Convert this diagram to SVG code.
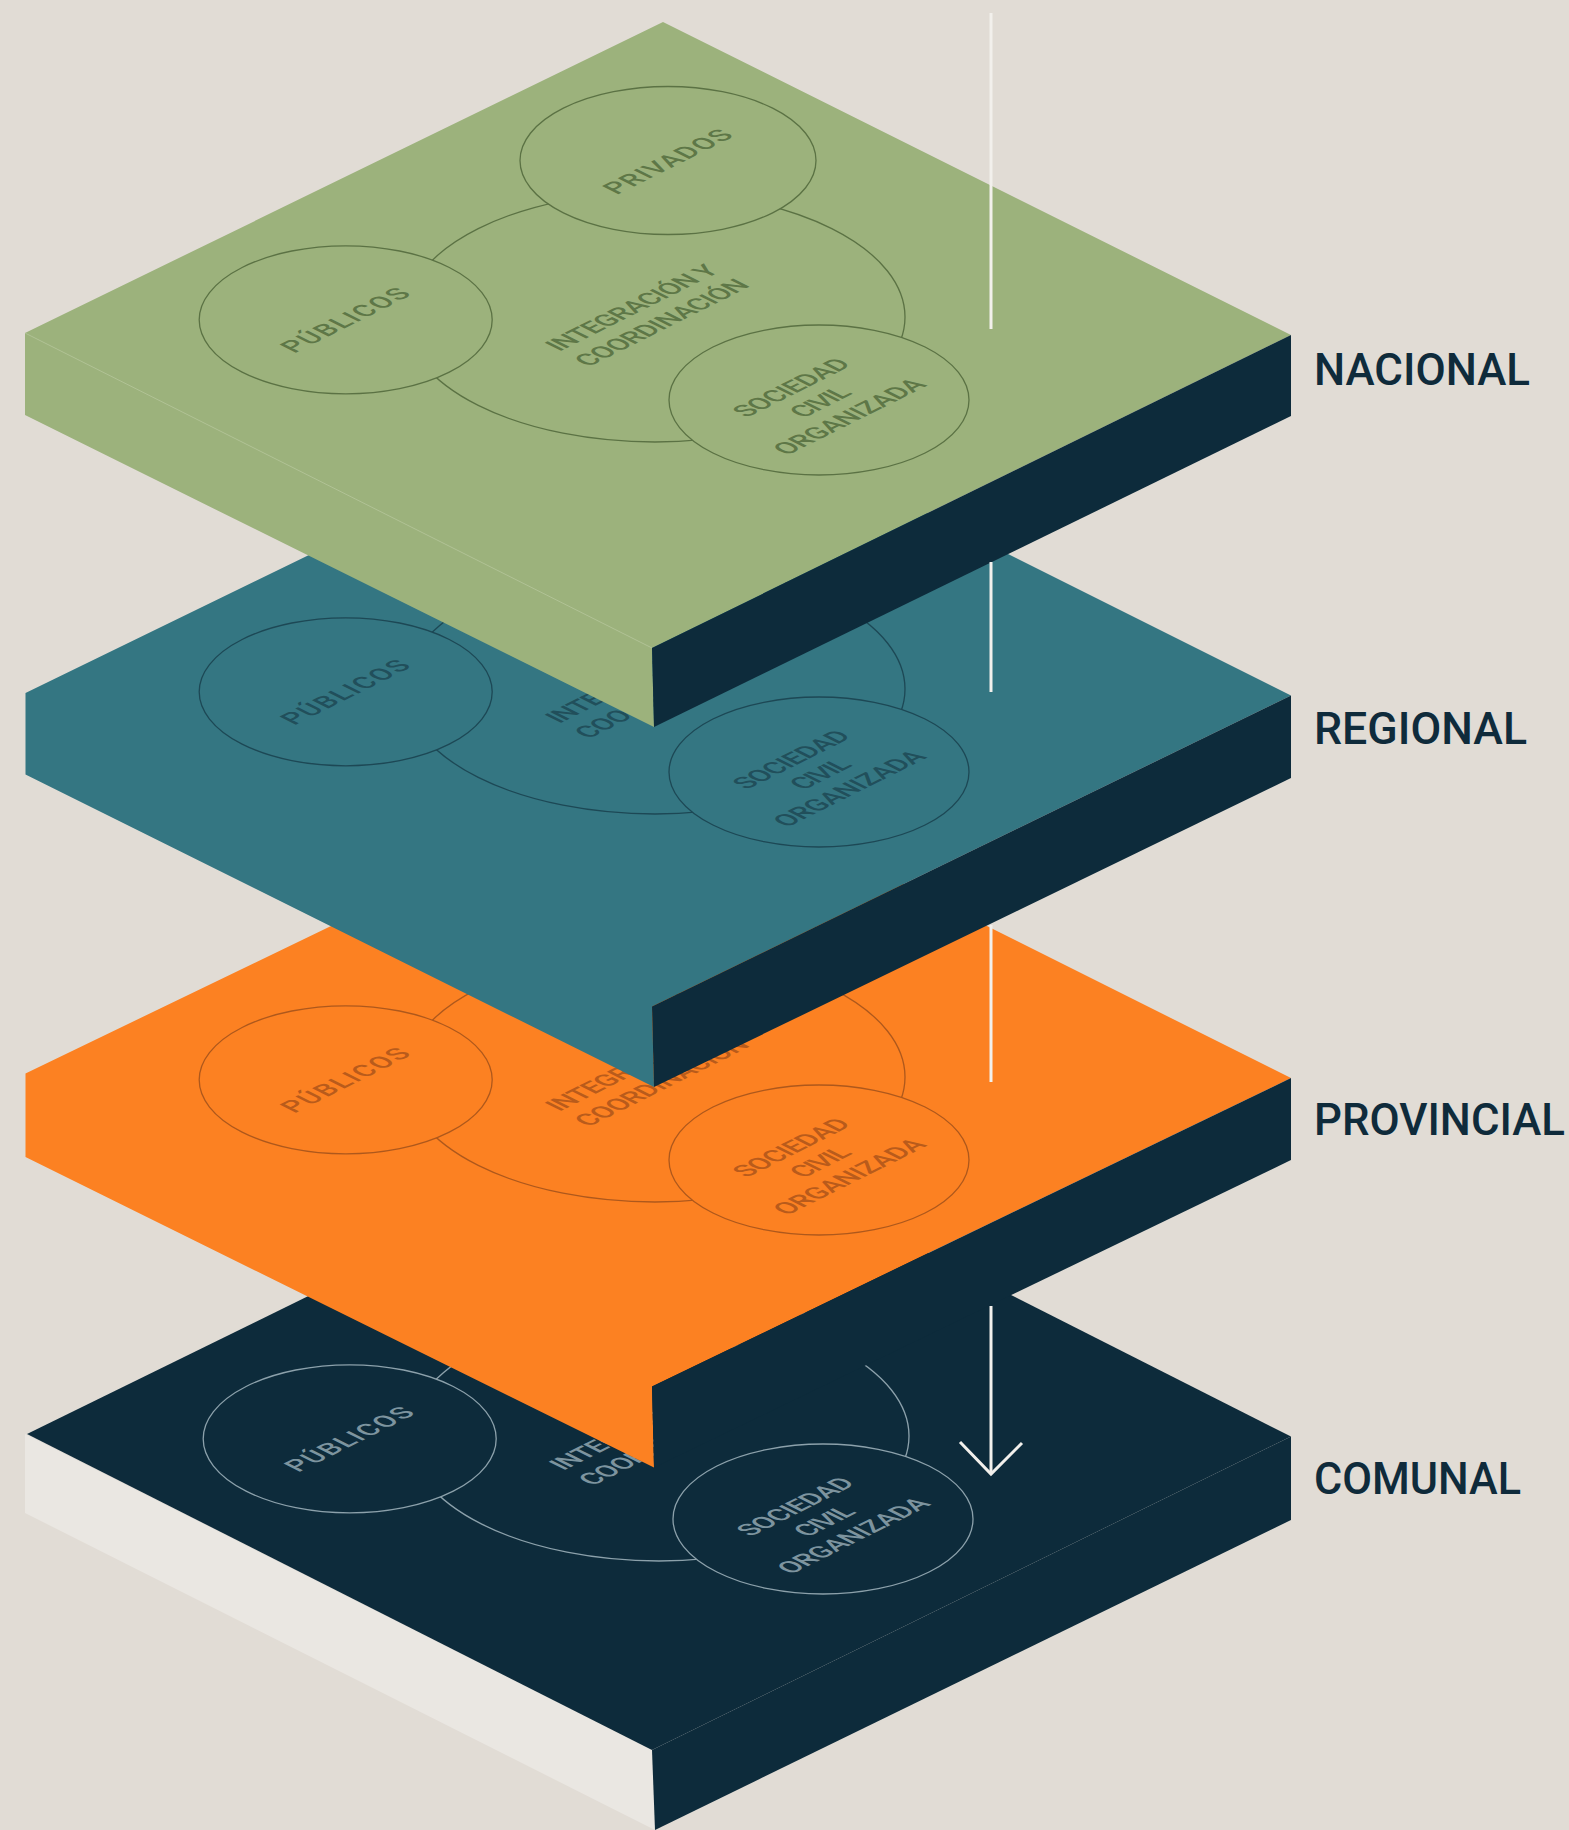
<svg xmlns="http://www.w3.org/2000/svg" width="1569" height="1830" viewBox="0 0 1569 1830">
<style>
.bg{fill:#E1DCD5}
.side{fill:#0D2B3B}
.lbl{font-family:Roboto,"Liberation Sans",sans-serif;font-weight:500;font-size:45px;fill:#0F2B3B}
.ct{font-family:Roboto,"Liberation Sans",sans-serif;font-weight:500;font-size:23px;text-anchor:middle}
.ln{fill:none;stroke-width:1.3}
.cir{stroke-width:1.3}
.nac .top{fill:#9CB27C}.nac .ln,.nac .cir{stroke:#5B7244}.nac .cir{fill:#9CB27C}.nac .ct{fill:#5E7747}
.reg .top{fill:#347682}.reg .ln,.reg .cir{stroke:#1D4855}.reg .cir{fill:#347682}.reg .ct{fill:#214F5B}
.pro .top{fill:#FC8122}.pro .ln,.pro .cir{stroke:#AE581C}.pro .cir{fill:#FC8122}.pro .ct{fill:#B95B1B}
.com .top{fill:#0D2B3B}.com .ln,.com .cir{stroke:#8CA1AB}.com .cir{fill:#0D2B3B}.com .ct{fill:#7D949F}
.lite{fill:#EAE7E2}
.edge{fill:none;stroke:#B9C9A0;stroke-width:1;opacity:0.7}
.conn{stroke:#F2F0EC;stroke-width:3;fill:none}
</style>
<rect class="bg" x="0" y="0" width="1569" height="1830"/>

<g id="comunal" class="com">
  <path class="lite" d="M25,1434 L652,1750 L655,1830 L25,1513 Z"/>
  <path class="side" d="M652,1750 L1291,1436.5 L1291,1520 L655,1830 Z"/>
  <path class="top" d="M666,1120.5 L1291,1436.5 L652,1750 L27,1434 Z"/>
  <g transform="translate(4,1119)">
    <ellipse class="ln" cx="655" cy="317" rx="250" ry="125"/>
    <ellipse class="cir" cx="345.7" cy="319.8" rx="146.5" ry="74"/>
    <ellipse class="cir" cx="668" cy="160.5" rx="148" ry="74"/>
    <ellipse class="cir" cx="819" cy="400" rx="150" ry="75"/>
    <text class="ct" transform="matrix(1,-0.5,1,0.5,345,320)" y="8.2" textLength="118" lengthAdjust="spacing">PÚBLICOS</text>
    <text class="ct" transform="matrix(1,-0.5,1,0.5,667.5,161.5)" y="8.2" textLength="118" lengthAdjust="spacing">PRIVADOS</text>
    <text class="ct" transform="matrix(1,-0.5,1,0.5,646.5,315)" y="-6.8" textLength="161" lengthAdjust="spacing">INTEGRACIÓN Y</text>
    <text class="ct" transform="matrix(1,-0.5,1,0.5,646.5,315)" y="23.2" textLength="163" lengthAdjust="spacing">COORDINACIÓN</text>
    <text class="ct" transform="matrix(1,-0.5,1,0.5,820,402)" y="-20.8" textLength="106" lengthAdjust="spacing">SOCIEDAD</text>
    <text class="ct" transform="matrix(1,-0.5,1,0.5,820,402)" y="8.2" textLength="50" lengthAdjust="spacing">CIVIL</text>
    <text class="ct" transform="matrix(1,-0.5,1,0.5,820,402)" y="37.2" textLength="141" lengthAdjust="spacing">ORGANIZADA</text>
  </g>
  <text class="lbl" x="1314" y="1494" textLength="207" lengthAdjust="spacingAndGlyphs">COMUNAL</text>
</g>

<g id="provincial" class="pro">
  <path class="top" d="M664.5,765 L1291,1078 L652,1386.5 L654,1467.6 L25.5,1157 L25.5,1073.5 Z"/>
  <path class="side" d="M652,1386.5 L1291,1078 L1291,1160 L654,1467.6 Z"/>
  <g transform="translate(0,760)">
    <ellipse class="ln" cx="655" cy="317" rx="250" ry="125"/>
    <ellipse class="cir" cx="345.7" cy="319.8" rx="146.5" ry="74"/>
    <ellipse class="cir" cx="668" cy="160.5" rx="148" ry="74"/>
    <ellipse class="cir" cx="819" cy="400" rx="150" ry="75"/>
    <text class="ct" transform="matrix(1,-0.5,1,0.5,345,320)" y="8.2" textLength="118" lengthAdjust="spacing">PÚBLICOS</text>
    <text class="ct" transform="matrix(1,-0.5,1,0.5,667.5,161.5)" y="8.2" textLength="118" lengthAdjust="spacing">PRIVADOS</text>
    <text class="ct" transform="matrix(1,-0.5,1,0.5,646.5,315)" y="-6.8" textLength="161" lengthAdjust="spacing">INTEGRACIÓN Y</text>
    <text class="ct" transform="matrix(1,-0.5,1,0.5,646.5,315)" y="23.2" textLength="163" lengthAdjust="spacing">COORDINACIÓN</text>
    <text class="ct" transform="matrix(1,-0.5,1,0.5,820,402)" y="-20.8" textLength="106" lengthAdjust="spacing">SOCIEDAD</text>
    <text class="ct" transform="matrix(1,-0.5,1,0.5,820,402)" y="8.2" textLength="50" lengthAdjust="spacing">CIVIL</text>
    <text class="ct" transform="matrix(1,-0.5,1,0.5,820,402)" y="37.2" textLength="141" lengthAdjust="spacing">ORGANIZADA</text>
  </g>
  <text class="lbl" x="1314" y="1134.5" textLength="251" lengthAdjust="spacingAndGlyphs">PROVINCIAL</text>
</g>

<g id="regional" class="reg">
  <path class="top" d="M664.5,382 L1291,695.5 L652,1006.5 L654,1087 L25.5,774.5 L25.5,693 Z"/>
  <path class="side" d="M652,1006.5 L1291,695.5 L1291,778 L654,1087 Z"/>
  <g transform="translate(0,372)">
    <ellipse class="ln" cx="655" cy="317" rx="250" ry="125"/>
    <ellipse class="cir" cx="345.7" cy="319.8" rx="146.5" ry="74"/>
    <ellipse class="cir" cx="668" cy="160.5" rx="148" ry="74"/>
    <ellipse class="cir" cx="819" cy="400" rx="150" ry="75"/>
    <text class="ct" transform="matrix(1,-0.5,1,0.5,345,320)" y="8.2" textLength="118" lengthAdjust="spacing">PÚBLICOS</text>
    <text class="ct" transform="matrix(1,-0.5,1,0.5,667.5,161.5)" y="8.2" textLength="118" lengthAdjust="spacing">PRIVADOS</text>
    <text class="ct" transform="matrix(1,-0.5,1,0.5,646.5,315)" y="-6.8" textLength="161" lengthAdjust="spacing">INTEGRACIÓN Y</text>
    <text class="ct" transform="matrix(1,-0.5,1,0.5,646.5,315)" y="23.2" textLength="163" lengthAdjust="spacing">COORDINACIÓN</text>
    <text class="ct" transform="matrix(1,-0.5,1,0.5,820,402)" y="-20.8" textLength="106" lengthAdjust="spacing">SOCIEDAD</text>
    <text class="ct" transform="matrix(1,-0.5,1,0.5,820,402)" y="8.2" textLength="50" lengthAdjust="spacing">CIVIL</text>
    <text class="ct" transform="matrix(1,-0.5,1,0.5,820,402)" y="37.2" textLength="141" lengthAdjust="spacing">ORGANIZADA</text>
  </g>
  <text class="lbl" x="1314" y="744" textLength="213" lengthAdjust="spacingAndGlyphs">REGIONAL</text>
</g>

<g id="nacional" class="nac">
  <path class="top" d="M663,22 L1291,335 L652,648 L654,727 L25,415 L25,333 Z"/>
  <path class="side" d="M652,648 L1291,335 L1291,416 L654,727 Z"/>
  <path class="edge" d="M25,333 L652,648"/>
  <g>
    <ellipse class="ln" cx="655" cy="317" rx="250" ry="125"/>
    <ellipse class="cir" cx="345.7" cy="319.8" rx="146.5" ry="74"/>
    <ellipse class="cir" cx="668" cy="160.5" rx="148" ry="74"/>
    <ellipse class="cir" cx="819" cy="400" rx="150" ry="75"/>
    <text class="ct" transform="matrix(1,-0.5,1,0.5,345,320)" y="8.2" textLength="118" lengthAdjust="spacing">PÚBLICOS</text>
    <text class="ct" transform="matrix(1,-0.5,1,0.5,667.5,161.5)" y="8.2" textLength="118" lengthAdjust="spacing">PRIVADOS</text>
    <text class="ct" transform="matrix(1,-0.5,1,0.5,646.5,315)" y="-6.8" textLength="161" lengthAdjust="spacing">INTEGRACIÓN Y</text>
    <text class="ct" transform="matrix(1,-0.5,1,0.5,646.5,315)" y="23.2" textLength="163" lengthAdjust="spacing">COORDINACIÓN</text>
    <text class="ct" transform="matrix(1,-0.5,1,0.5,820,402)" y="-20.8" textLength="106" lengthAdjust="spacing">SOCIEDAD</text>
    <text class="ct" transform="matrix(1,-0.5,1,0.5,820,402)" y="8.2" textLength="50" lengthAdjust="spacing">CIVIL</text>
    <text class="ct" transform="matrix(1,-0.5,1,0.5,820,402)" y="37.2" textLength="141" lengthAdjust="spacing">ORGANIZADA</text>
  </g>
  <text class="lbl" x="1314" y="385" textLength="216" lengthAdjust="spacingAndGlyphs">NACIONAL</text>
</g>

<g id="connectors">
  <line class="conn" x1="991" y1="13" x2="991" y2="329"/>
  <line class="conn" x1="991" y1="562" x2="991" y2="692"/>
  <line class="conn" x1="991" y1="925" x2="991" y2="1082"/>
  <line class="conn" x1="991" y1="1306" x2="991" y2="1474"/>
  <path class="conn" d="M960,1442 L991,1474 L1022,1443"/>
</g>
</svg>
